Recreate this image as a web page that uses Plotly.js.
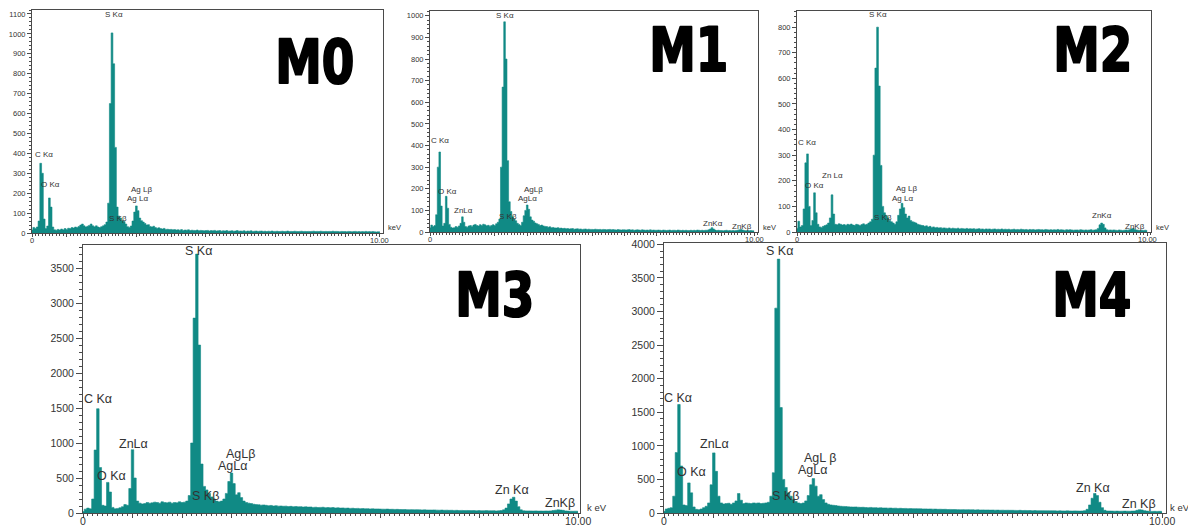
<!DOCTYPE html>
<html>
<head>
<meta charset="utf-8">
<script src="https://cdn.plot.ly/plotly-3.0.1.min.js"></script>
<style>
html,body{margin:0;padding:0;background:#fff;}
#chart{width:1188px;height:526px;}
</style>
</head>
<body>
<div id="chart"></div>
<script>
// Channel width of the spectra (keV); counts start at 0.00 keV
const channelKeV = 0.05;

// Panel names
const panelNames = ['M0', 'M1', 'M2', 'M3', 'M4'];

// Counts per channel, one row per keV (0.00 .. 10.00 keV)
const countsM0 = [
  15, 28, 22, 30, 60, 350, 300, 70, 22, 35, 176, 130, 30, 16, 14, 18, 15, 20, 16, 22,
  18, 24, 22, 27, 25, 30, 28, 33, 40, 45, 36, 30, 34, 38, 45, 36, 31, 36, 30, 27,
  32, 36, 42, 55, 150, 650, 1005, 850, 430, 130, 85, 75, 62, 58, 45, 32, 28, 35, 60, 105,
  136, 112, 75, 62, 55, 48, 40, 42, 33, 30, 34, 27, 24, 26, 22, 20, 23, 18, 19, 17,
  18, 16, 17, 15, 16, 14, 17, 13, 15, 14, 16, 12, 14, 13, 12, 15, 11, 13, 12, 11,
  12, 13, 10, 12, 11, 13, 10, 11, 12, 9, 11, 10, 12, 9, 10, 11, 9, 10, 12, 9,
  10, 9, 11, 8, 10, 9, 11, 8, 9, 10, 8, 9, 10, 8, 9, 7, 9, 8, 10, 8,
  8, 9, 7, 8, 9, 7, 8, 10, 7, 8, 7, 9, 8, 7, 8, 9, 7, 8, 7, 8,
  7, 8, 9, 7, 8, 7, 9, 8, 7, 8, 7, 8, 7, 9, 7, 8, 7, 6, 8, 7,
  7, 6, 8, 7, 6, 7, 8, 6, 7, 6, 7, 6, 8, 6, 7, 6, 7, 6, 5, 6,
  6
];
const countsM1 = [
  20, 32, 25, 30, 80, 300, 370, 120, 28, 40, 165, 110, 35, 22, 18, 20, 25, 22, 28, 40,
  70, 45, 25, 22, 28, 30, 26, 32, 35, 30, 28, 34, 30, 36, 33, 29, 31, 27, 30, 34,
  30, 38, 45, 60, 300, 670, 972, 800, 330, 140, 95, 70, 60, 52, 40, 35, 30, 45, 75, 100,
  125, 105, 70, 55, 50, 42, 38, 35, 30, 32, 28, 26, 25, 22, 24, 20, 21, 19, 18, 20,
  17, 18, 16, 17, 15, 16, 14, 15, 16, 13, 14, 15, 13, 14, 12, 13, 14, 12, 13, 12,
  12, 11, 13, 12, 11, 12, 10, 12, 11, 10, 11, 12, 10, 11, 10, 9, 11, 10, 9, 10,
  10, 9, 10, 11, 9, 10, 8, 9, 10, 9, 8, 10, 9, 8, 9, 8, 10, 8, 9, 8,
  8, 9, 8, 7, 9, 8, 7, 8, 9, 7, 8, 8, 7, 9, 8, 7, 8, 7, 8, 7,
  7, 8, 7, 8, 7, 9, 8, 7, 8, 7, 8, 8, 10, 14, 20, 14, 9, 7, 8, 7,
  7, 6, 7, 8, 6, 7, 6, 7, 6, 7, 8, 10, 12, 9, 7, 6, 7, 6, 7, 6,
  6
];
const countsM2 = [
  15, 42, 20, 25, 90, 270, 305, 100, 25, 45, 153, 75, 30, 20, 18, 22, 25, 28, 35, 55,
  145, 70, 30, 28, 32, 30, 27, 29, 26, 30, 28, 31, 27, 26, 30, 28, 25, 29, 32, 28,
  30, 35, 40, 50, 300, 640, 800, 570, 260, 100, 75, 65, 55, 45, 40, 35, 30, 40, 65, 90,
  112, 95, 70, 55, 62, 45, 40, 38, 35, 30, 28, 26, 25, 22, 24, 20, 22, 18, 20, 17,
  18, 16, 17, 15, 16, 15, 14, 16, 13, 15, 14, 13, 15, 12, 14, 13, 12, 14, 12, 13,
  12, 13, 11, 12, 13, 11, 12, 10, 12, 11, 12, 10, 11, 12, 10, 11, 10, 12, 10, 11,
  10, 11, 9, 10, 11, 9, 10, 9, 11, 10, 9, 10, 8, 10, 9, 10, 8, 9, 10, 9,
  9, 8, 10, 9, 8, 9, 8, 9, 8, 10, 8, 9, 8, 7, 9, 8, 9, 8, 7, 8,
  8, 7, 9, 8, 7, 8, 7, 8, 9, 7, 8, 9, 14, 28, 35, 30, 16, 9, 7, 8,
  7, 8, 7, 6, 8, 7, 6, 7, 8, 7, 9, 12, 14, 10, 8, 7, 6, 7, 6, 7,
  6
];
const countsM3 = [
  20, 55, 70, 60, 200, 900, 1490, 650, 110, 100, 437, 300, 80, 60, 65, 75, 90, 120, 110, 350,
  904, 500, 170, 140, 130, 135, 150, 140, 145, 155, 150, 140, 160, 150, 145, 155, 140, 150, 145, 160,
  150, 155, 170, 250, 1000, 2785, 3700, 2400, 700, 380, 330, 280, 230, 200, 170, 160, 170, 200, 280, 450,
  570, 420, 260, 290, 220, 170, 150, 140, 135, 125, 120, 118, 112, 115, 110, 105, 108, 100, 104, 98,
  100, 96, 98, 92, 95, 90, 93, 88, 90, 85, 88, 84, 86, 80, 83, 78, 80, 82, 76, 78,
  75, 78, 72, 74, 70, 72, 68, 70, 66, 68, 64, 66, 62, 64, 60, 62, 58, 60, 57, 58,
  56, 55, 54, 56, 52, 53, 51, 52, 50, 49, 50, 48, 47, 48, 46, 47, 45, 44, 45, 43,
  43, 42, 44, 41, 40, 42, 39, 40, 38, 39, 37, 38, 36, 37, 35, 36, 35, 34, 35, 33,
  34, 33, 32, 34, 31, 32, 33, 30, 32, 35, 45, 70, 130, 200, 225, 170, 90, 45, 32, 30,
  30, 29, 28, 30, 27, 28, 27, 29, 28, 30, 35, 40, 45, 42, 38, 30, 27, 26, 25, 26,
  25
];
const countsM4 = [
  25, 60, 70, 80, 250, 900, 1615, 700, 120, 110, 448, 300, 90, 55, 50, 60, 80, 100, 150, 420,
  895, 620, 250, 150, 135, 140, 145, 130, 150, 180, 290, 190, 140, 150, 145, 140, 150, 145, 150, 140,
  145, 150, 160, 250, 600, 3050, 3780, 1570, 500, 380, 300, 250, 200, 170, 150, 140, 150, 180, 260, 420,
  512, 400, 250, 273, 200, 150, 130, 120, 115, 110, 105, 100, 98, 95, 92, 90, 88, 90, 86, 84,
  85, 82, 80, 83, 78, 80, 76, 78, 74, 75, 72, 74, 70, 72, 68, 70, 67, 68, 65, 66,
  64, 65, 62, 63, 60, 61, 58, 60, 57, 58, 55, 56, 54, 55, 52, 53, 51, 52, 50, 49,
  50, 48, 49, 47, 48, 46, 47, 45, 46, 44, 45, 43, 44, 42, 43, 41, 42, 40, 41, 40,
  40, 39, 38, 40, 37, 38, 36, 37, 35, 36, 35, 34, 35, 33, 34, 32, 33, 32, 31, 32,
  31, 30, 32, 30, 29, 31, 30, 28, 30, 35, 55, 120, 220, 290, 260, 160, 80, 40, 30, 29,
  28, 27, 28, 26, 27, 28, 27, 26, 28, 30, 40, 50, 45, 35, 28, 26, 24, 25, 24, 25,
  24
];

// x-axis tick labels: only the ends of the energy axis are labelled
const xTickValues = [0, 1, 2, 3, 4, 5, 6, 7, 8, 9, 10];
const xEndLabels = ['0', '10.00'];
const xUnitTop = 'keV';
const xUnitBottom = 'k eV';

const allCounts = [countsM0, countsM1, countsM2, countsM3, countsM4];

// ---------- layout geometry (pixels) ----------
const W = 1188, H = 526;
const boxes = [
  {l: 32,  r: 383,  t: 10,  b: 233, xmax: 10.09, ymax: 1120, dtick: 100, minor: 20,  small: true,  unitDx: 3},
  {l: 430, r: 758,  t: 11,  b: 232, xmax: 10.12, ymax: 1022, dtick: 100, minor: 20,  small: true,  unitDx: 3},
  {l: 797, r: 1151, t: 11,  b: 232, xmax: 10.11, ymax: 863,  dtick: 100, minor: 20,  small: true,  unitDx: 3},
  {l: 83,  r: 580,  t: 245, b: 513, xmax: 10.04, ymax: 3830, dtick: 500, minor: 100, small: false, unitDx: 5},
  {l: 664, r: 1166, t: 243, b: 513, xmax: 10.08, ymax: 4020, dtick: 500, minor: 100, small: false, unitDx: 2}
];
const teal = '#108a85';
const axisCol = '#4a4a4a';
const txtFont = 'Liberation Sans, Arial, sans-serif';

const traces = [];
const layout = {
  width: W, height: H,
  margin: {l: 0, r: 0, t: 0, b: 0},
  paper_bgcolor: '#fff', plot_bgcolor: '#fff',
  showlegend: false,
  font: {family: txtFont, color: '#333'},
  annotations: []
};
const px = (x, y) => ({x: x / W, y: 1 - y / H});

allCounts.forEach((counts, k) => {
  const bx = boxes[k];
  const sfx = k === 0 ? '' : String(k + 1);
  const energies = counts.map((_, i) => +(i * channelKeV).toFixed(2));
  traces.push({
    type: 'scatter', mode: 'lines',
    x: energies, y: counts,
    xaxis: 'x' + sfx, yaxis: 'y' + sfx,
    line: {shape: 'hvh', width: 0.6, color: teal},
    fill: 'tozeroy', fillcolor: teal,
    hoverinfo: 'skip'
  });
  const tickSize = bx.small ? 7.5 : 10.5;
  layout['xaxis' + sfx] = {
    domain: [bx.l / W, bx.r / W],
    range: [0, bx.xmax],
    anchor: 'y' + sfx,
    tickmode: 'array', tickvals: xTickValues, showticklabels: false,
    ticks: 'outside', ticklen: bx.small ? 3 : 4, tickwidth: 1, tickcolor: axisCol,
    minor: {tickmode: 'linear', tick0: 0, dtick: 0.1, ticks: 'outside', ticklen: 2, tickwidth: 1, tickcolor: axisCol},
    showline: true, linecolor: axisCol, linewidth: 1, mirror: true,
    showgrid: false, zeroline: false,
    fixedrange: true
  };
  layout['yaxis' + sfx] = {
    domain: [1 - bx.b / H, 1 - bx.t / H],
    range: [0, bx.ymax],
    anchor: 'x' + sfx,
    tickmode: 'linear', tick0: 0, dtick: bx.dtick,
    ticks: 'outside', ticklen: bx.small ? 4 : 6, tickwidth: 1, tickcolor: axisCol,
    minor: {tickmode: 'linear', tick0: 0, dtick: bx.minor, ticks: 'outside', ticklen: bx.small ? 2 : 3, tickwidth: 1, tickcolor: axisCol},
    showline: true, linecolor: axisCol, linewidth: 1, mirror: true,
    showgrid: false, zeroline: false,
    tickformat: 'd',
    tickfont: {size: tickSize, color: '#333'},
    fixedrange: true
  };
  // axis end labels and unit, placed just below / right of the energy axis
  const x0px = bx.l;
  const x10px = bx.l + (bx.r - bx.l) * 10 / bx.xmax;
  const labY = bx.b + (bx.small ? 7 : 8);
  [[xEndLabels[0], x0px], [xEndLabels[1], x10px]].forEach(([t, xp]) => {
    layout.annotations.push(Object.assign(px(xp, labY), {
      text: t, xref: 'paper', yref: 'paper', xanchor: 'center', yanchor: 'middle',
      showarrow: false, font: {size: tickSize, color: '#333', family: txtFont}
    }));
  });
  layout.annotations.push(Object.assign(px(bx.r + bx.unitDx, bx.b - (bx.small ? 5 : 6)), {
    text: bx.small ? xUnitTop : xUnitBottom, xref: 'paper', yref: 'paper',
    xanchor: 'left', yanchor: 'middle', showarrow: false,
    font: {size: bx.small ? 7.5 : 9.5, color: '#333', family: txtFont}
  }));
});

// ---------- peak labels (energy, counts position of each label) ----------
const peakLabels = [
  [['S Kα', 2.36, 1095], ['C Kα', 0.34, 392], ['O Kα', 0.52, 246], ['Ag Lβ', 3.16, 221],
   ['Ag Lα', 3.02, 171], ['S Kβ', 2.47, 75]],
  [['S Kα', 2.31, 1002], ['C Kα', 0.31, 421], ['O Kα', 0.55, 186], ['ZnLα', 1.02, 98],
   ['AgLβ', 3.18, 195], ['AgLα', 3.02, 154], ['S Kβ', 2.41, 70], ['ZnKα', 8.73, 38],
   ['ZnKβ', 9.63, 25]],
  [['S Kα', 2.31, 848], ['C Kα', 0.29, 348], ['O Kα', 0.51, 180], ['Zn Lα', 1.0, 219],
   ['Ag Lβ', 3.14, 168], ['Ag Lα', 3.0, 129], ['S Kβ', 2.46, 55], ['ZnKα', 8.71, 63],
   ['ZnKβ', 9.66, 23]],
  [['S Kα', 2.34, 3744], ['C Kα', 0.30, 1630], ['O Kα', 0.57, 530], ['ZnLα', 1.03, 986],
   ['AgLβ', 3.18, 843], ['AgLα', 3.02, 670], ['S Kβ', 2.47, 243], ['Zn Kα', 8.66, 330],
   ['ZnKβ', 9.63, 143]],
  [['S Kα', 2.31, 3900], ['C Kα', 0.28, 1711], ['O Kα', 0.55, 610], ['ZnLα', 1.02, 1027],
   ['AgL β', 3.14, 818], ['AgLα', 2.99, 640], ['S Kβ', 2.44, 253], ['Zn Kα', 8.62, 372],
   ['Zn Kβ', 9.54, 134]]
];
peakLabels.forEach((list, k) => {
  const sfx = k === 0 ? '' : String(k + 1);
  const small = boxes[k].small;
  list.forEach(([t, x, y]) => {
    layout.annotations.push({
      text: t, x: x, y: y, xref: 'x' + sfx, yref: 'y' + sfx,
      xanchor: 'center', yanchor: 'middle', showarrow: false,
      font: {size: small ? 8 : 12.5, color: '#333', family: txtFont}
    });
  });
});

// ---------- big panel names ----------
const nameCentres = [[314, 62], [688, 50], [1092, 50], [494, 295], [1091, 295]];
panelNames.forEach((n, k) => {
  layout.annotations.push(Object.assign(px(nameCentres[k][0], nameCentres[k][1]), {
    text: '<b>' + n + '</b>', xref: 'paper', yref: 'paper',
    xanchor: 'center', yanchor: 'middle', showarrow: false,
    font: {size: 60, color: '#000', family: 'DejaVu Sans, sans-serif'}
  }));
});

Plotly.newPlot('chart', traces, layout, {staticPlot: true, displayModeBar: false}).then(gd => {
  // make the big panel names condensed and heavy like the original poster lettering
  gd.querySelectorAll('text.annotation-text').forEach(t => {
    if (panelNames.indexOf(t.textContent) < 0) return;
    const bb = t.getBBox();
    const cx = bb.x + bb.width / 2;
    const s = 0.78;
    t.setAttribute('transform', 'translate(' + (cx * (1 - s)) + ',0) scale(' + s + ',1)');
    t.style.stroke = '#000';
    t.style.strokeWidth = '2.2px';
    t.style.strokeLinejoin = 'round';
  });
});
</script>
</body>
</html>
